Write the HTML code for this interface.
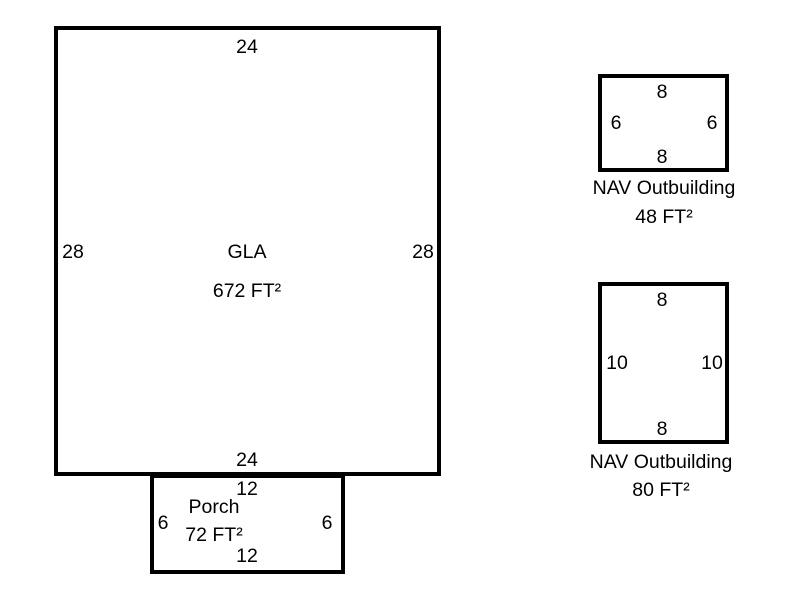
<!DOCTYPE html>
<html><head><style>body{margin:0;background:#fff}svg{display:block}text{font-family:"Liberation Sans",Arial,sans-serif;font-size:19.5px;fill:#000}</style></head>
<body>
<svg width="800" height="600" viewBox="0 0 800 600">
<g fill="none" stroke="#000" stroke-width="4">
<rect x="56" y="28" width="383" height="446"/>
<rect x="152" y="476" width="191" height="96"/>
<rect x="600" y="76" width="127" height="94"/>
<rect x="600" y="284" width="127" height="158"/>
</g>
<g text-anchor="middle">
<text x="247" y="53">24</text>
<text x="73" y="258">28</text>
<text x="423" y="258">28</text>
<text x="247" y="258">GLA</text>
<text x="247" y="297">672 FT²</text>
<text x="247" y="466">24</text>
<text x="247" y="495">12</text>
<text x="214" y="513">Porch</text>
<text x="214" y="541">72 FT²</text>
<text x="163" y="529">6</text>
<text x="327" y="529">6</text>
<text x="247" y="562">12</text>
<text x="662" y="98">8</text>
<text x="616" y="129">6</text>
<text x="712" y="129">6</text>
<text x="662" y="163">8</text>
<text x="664" y="194">NAV Outbuilding</text>
<text x="664" y="223">48 FT²</text>
<text x="662" y="306">8</text>
<text x="617" y="369">10</text>
<text x="712" y="369">10</text>
<text x="662" y="435">8</text>
<text x="661" y="468">NAV Outbuilding</text>
<text x="661" y="496">80 FT²</text>
</g>
</svg>
</body></html>
